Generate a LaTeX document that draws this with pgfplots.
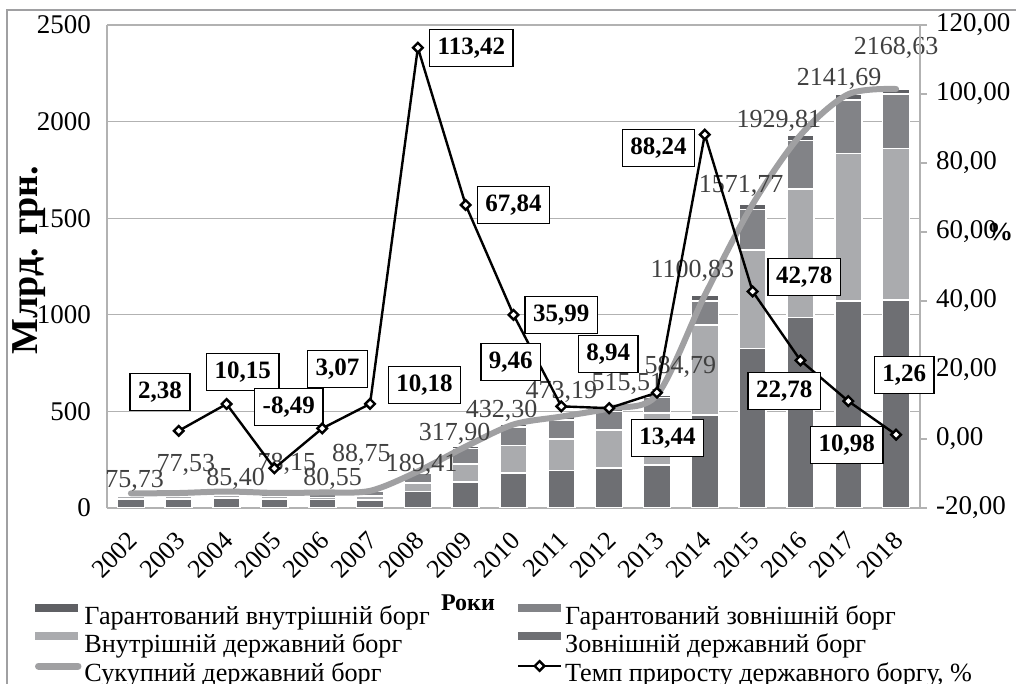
\documentclass[border=0pt]{standalone}
\usepackage{pgfplots}
\pgfplotsset{compat=1.18}
\usepackage{fontspec}
\setmainfont{Liberation Serif}

\definecolor{extstate}{RGB}{110,111,115}
\definecolor{intstate}{RGB}{170,171,174}
\definecolor{guarext}{RGB}{130,131,135}
\definecolor{guarint}{RGB}{95,96,100}
\definecolor{totalc}{RGB}{160,160,162}
\definecolor{gridc}{RGB}{178,178,178}
\definecolor{labc}{RGB}{64,64,64}

\newcommand{\tfont}{\fontsize{13}{15}\selectfont}
\newcommand{\yfont}{\fontsize{13.5}{16}\selectfont}

\pgfplotsset{
  base/.style={
    width=406.5pt, height=241.5pt, scale only axis,
    at={(0,0)}, anchor=south west,
    xmin=-0.5, xmax=16.5,
    yticklabel style={font=\yfont},
    xticklabel style={font=\tfont},
    /pgf/number format/assume math mode=true,
  },
}
\tikzset{
  tot/.style={labc, font=\tfont, inner sep=0pt},
  box/.style={draw=black, line width=0.75pt, fill=white, font=\bfseries\fontsize{12.5}{15}\selectfont,
    inner xsep=4pt, inner ysep=3.5pt, text height=9pt, text depth=2.5pt},
  lgbox/.style={draw=none, fill=none},
}

\begin{document}
\begin{tikzpicture}
\useasboundingbox (-53.5pt,-88pt) rectangle (454.5pt,254pt);
\draw[totalc, line width=0.8pt] (-50pt,-100pt) rectangle (470pt,249pt);

% stacked bars, grid, left axis, legend
\begin{axis}[base,
  ybar stacked, bar width=13.5pt,
  ymin=0, ymax=2500, ytick={0,500,...,2500},
  ymajorgrids, grid style={gridc, line width=0.6pt},
  axis x line*=bottom, axis y line*=left,
  axis line style={gridc, line width=0.8pt},
  xtick={0,...,16},
  xticklabels={2002,2003,2004,2005,2006,2007,2008,2009,2010,2011,2012,2013,2014,2015,2016,2017,2018},
  xticklabel style={xshift=-2pt, yshift=-9.5pt, rotate=45, anchor=north east, inner sep=1pt},
  yticklabel style={xshift=-4.5pt},
  ytick style={draw=none}, xtick style={draw=none},
  /pgf/number format/1000 sep={},
  legend columns=2,
  legend cell align=left,
  legend style={draw=none, fill=none, inner sep=0pt, outer sep=0pt,
    at={(axis description cs:0,0)}, anchor=north west,
    xshift=-36pt, yshift=-48pt, font=\fontsize{13.1}{15}\selectfont,
    nodes={inner sep=0pt, text height=9.5pt, text depth=3pt},
    row sep=0.5pt,
    /tikz/every even column/.append style={column sep=43.5pt},
    /tikz/every odd column/.append style={column sep=1.5pt}},
]
\addplot[forget plot, fill=extstate, draw=white, line width=0.8pt] coordinates {
 (0,46) (1,48) (2,52) (3,47.5) (4,44) (5,42) (6,85.4) (7,134.7) (8,180) (9,195)
 (10,207) (11,222) (12,480) (13,825) (14,985) (15,1072) (16,1077)};
\addplot[forget plot, fill=intstate, draw=white, line width=0.8pt] coordinates {
 (0,16) (1,15.5) (2,14.5) (3,12.5) (4,11) (5,19.5) (6,44.9) (7,92.3) (8,143.5) (9,162)
 (10,197) (11,269) (12,467) (13,509) (14,666) (15,762) (16,784)};
\addplot[forget plot, fill=guarext, draw=white, line width=0.8pt] coordinates {
 (0,12) (1,12.5) (2,17) (3,16.5) (4,24) (5,25.5) (6,50.1) (7,80) (8,95.8) (9,100)
 (10,96) (11,81.79) (12,124) (13,210) (14,252) (15,278) (16,281)};
\addplot[forget plot, fill=guarint, draw=white, line width=0.8pt] coordinates {
 (0,1.73) (1,1.53) (2,1.9) (3,1.65) (4,1.55) (5,1.75) (6,9.01) (7,10.9) (8,13) (9,16.19)
 (10,15.51) (11,12) (12,29.83) (13,27.77) (14,26.81) (15,29.69) (16,26.63)};

\addlegendimage{legend image code/.code={\path[lgbox] (0pt,-6.5pt) rectangle (21.5pt,6.5pt);
  \fill[guarint, draw=none] (0pt,3pt) rectangle (21.5pt,7pt);}}
\addlegendentry{Гарантований внутрішній борг}
\addlegendimage{legend image code/.code={\path[lgbox] (0pt,-6.5pt) rectangle (21.5pt,6.5pt);
  \fill[guarext, draw=none] (0pt,3pt) rectangle (21.5pt,7pt);}}
\addlegendentry{Гарантований зовнішній борг}
\addlegendimage{legend image code/.code={\path[lgbox] (0pt,-6.5pt) rectangle (21.5pt,6.5pt);
  \fill[intstate, draw=none] (0pt,3pt) rectangle (21.5pt,7pt);}}
\addlegendentry{Внутрішній державний борг}
\addlegendimage{legend image code/.code={\path[lgbox] (0pt,-6.5pt) rectangle (21.5pt,6.5pt);
  \fill[extstate, draw=none] (0pt,3pt) rectangle (21.5pt,7pt);}}
\addlegendentry{Зовнішній державний борг}
\addlegendimage{legend image code/.code={\path[lgbox] (0pt,-6.5pt) rectangle (21.5pt,6.5pt);
  \draw[totalc, line width=3.5pt, line cap=round] (1.75pt,4.5pt) -- (21.5pt,4.5pt);}}
\addlegendentry{Сукупний державний борг}
\addlegendimage{legend image code/.code={\path[lgbox] (0pt,-6.5pt) rectangle (21.5pt,6.5pt);
  \draw[black, line width=1.2pt] (0pt,4.5pt) -- (21.5pt,4.5pt);
  \draw[black, line width=1.2pt, fill=white] (10.75pt,2.1pt) -- (13.15pt,4.5pt) -- (10.75pt,6.9pt) -- (8.35pt,4.5pt) -- cycle;}}
\addlegendentry{Темп приросту державного боргу, \%}
\end{axis}

% total debt line
\begin{axis}[base, ymin=0, ymax=2500, hide axis, clip=false]
\addplot[totalc, line width=3pt, smooth, line cap=round, line join=round] coordinates {
 (0,75.73) (1,77.53) (2,85.40) (3,78.15) (4,80.55) (5,88.75) (6,189.41) (7,317.90) (8,432.30)
 (9,473.19) (10,515.51) (11,584.79) (12,1100.83) (13,1571.77) (14,1929.81) (15,2141.69) (16,2168.63)};
\node[tot] at (axis cs:0.08,140) {75,73};
\node[tot] at (axis cs:1.15,223) {77,53};
\node[tot] at (axis cs:2.19,150) {85,40};
\node[tot] at (axis cs:3.26,228) {78,15};
\node[tot] at (axis cs:4.22,150) {80,55};
\node[tot] at (axis cs:4.82,274) {88,75};
\node[tot] at (axis cs:6.08,223) {189,41};
\node[tot] at (axis cs:6.77,383) {317,90};
\node[tot] at (axis cs:7.75,502) {432,30};
\node[tot] at (axis cs:9.00,600) {473,19};
\node[tot] at (axis cs:10.38,642) {515,51};
\node[tot] at (axis cs:11.49,730) {584,79};
\node[tot] at (axis cs:11.74,1227) {1100,83};
\node[tot] at (axis cs:12.76,1667) {1571,77};
\node[tot] at (axis cs:13.55,2003) {1929,81};
\node[tot] at (axis cs:14.81,2220) {2141,69};
\node[tot] at (axis cs:16.0,2381) {2168,63};
\node[rotate=90, font=\bfseries\fontsize{19}{21}\selectfont] at ([xshift=-39pt]axis description cs:0,0.513) {Млрд. грн.};
\node[font=\bfseries\fontsize{12}{14}\selectfont] at ([yshift=-47.5pt]axis description cs:0.444,0) {Роки};
\end{axis}

% growth rate, right axis
\begin{axis}[base, ymin=-20, ymax=120, ytick={-20,0,...,120},
  axis y line*=right, axis x line=none, clip=false,
  axis line style={gridc, line width=0.8pt},
  tick align=outside, major tick length=3.5pt,
  ytick style={gridc, line width=0.8pt},
  yticklabel style={xshift=1pt},
  /pgf/number format/.cd, fixed, fixed zerofill, precision=2, use comma,
]
\addplot[black, line width=1.2pt, mark=square*, mark size=1.7pt,
  mark options={rotate=45, fill=white, draw=black, line width=1.2pt}] coordinates {
 (1,2.38) (2,10.15) (3,-8.49) (4,3.07) (5,10.18) (6,113.42) (7,67.84) (8,35.99) (9,9.46)
 (10,8.94) (11,13.44) (12,88.24) (13,42.78) (14,22.78) (15,10.98) (16,1.26)};
\node[box] at (axis cs:0.61,13.6) {2,38};
\node[box] at (axis cs:2.34,19.4) {10,15};
\node[box] at (axis cs:3.30,9.3) {-8,49};
\node[box] at (axis cs:4.32,20.3) {3,07};
\node[box] at (axis cs:6.14,15.7) {10,18};
\node[box] at (axis cs:7.12,113.3) {113,42};
\node[box] at (axis cs:8.00,67.8) {67,84};
\node[box] at (axis cs:9.00,35.9) {35,99};
\node[box] at (axis cs:7.94,22.3) {9,46};
\node[box] at (axis cs:9.98,24.6) {8,94};
\node[box] at (axis cs:11.22,0.3) {13,44};
\node[box] at (axis cs:11.03,84.3) {88,24};
\node[box] at (axis cs:14.08,47.0) {42,78};
\node[box] at (axis cs:13.66,13.9) {22,78};
\node[box] at (axis cs:14.97,-1.7) {10,98};
\node[box] at (axis cs:16.17,18.6) {1,26};
\node[font=\bfseries\fontsize{13}{15}\selectfont] at ([xshift=40pt]axis description cs:1,0.571) {\%};
\end{axis}
\end{tikzpicture}
\end{document}
